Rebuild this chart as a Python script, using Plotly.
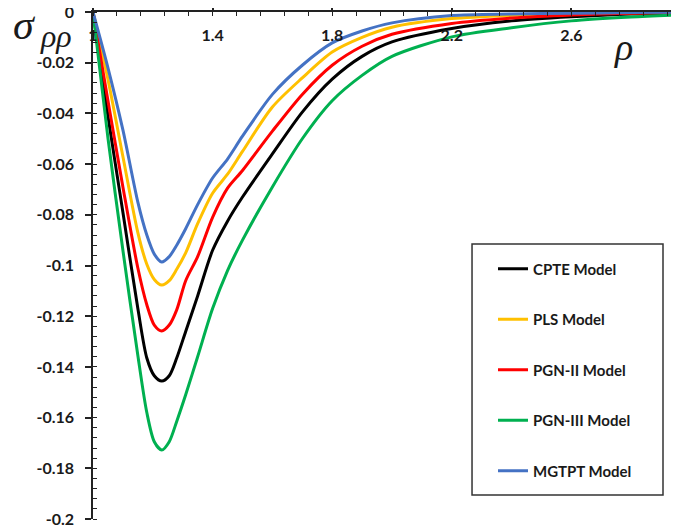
import plotly.graph_objects as go

rho = [1.0, 1.05, 1.1, 1.15, 1.18, 1.205, 1.23, 1.255, 1.28, 1.31, 1.35, 1.4, 1.45, 1.5, 1.6, 1.7, 1.8, 1.9, 2.0, 2.2, 2.4, 2.6, 2.8, 2.96]

cpte = [0.0, -0.041, -0.079, -0.117, -0.1365, -0.1435, -0.1456, -0.1435, -0.1365, -0.126, -0.112, -0.094, -0.0825, -0.073, -0.056, -0.0395, -0.0265, -0.0175, -0.0118, -0.0065, -0.0035, -0.0019, -0.0008, -0.0004]
pls = [0.0, -0.0266, -0.057, -0.087, -0.0995, -0.1055, -0.1077, -0.106, -0.1015, -0.095, -0.0835, -0.0715, -0.064, -0.055, -0.0375, -0.026, -0.0158, -0.010, -0.006, -0.0026, -0.0013, -0.0007, -0.0003, -0.0002]
pgn2 = [0.0, -0.035, -0.069, -0.101, -0.1155, -0.1235, -0.1258, -0.1235, -0.1175, -0.106, -0.0965, -0.081, -0.0695, -0.0625, -0.047, -0.0325, -0.021, -0.0135, -0.0088, -0.0045, -0.0024, -0.0012, -0.0005, -0.0003]
pgn3 = [0.0, -0.0497, -0.094, -0.1355, -0.158, -0.1695, -0.1728, -0.1695, -0.1615, -0.151, -0.136, -0.117, -0.102, -0.090, -0.069, -0.050, -0.035, -0.025, -0.0175, -0.0098, -0.0062, -0.0035, -0.0020, -0.0012]
mgtpt = [0.0, -0.022, -0.0465, -0.075, -0.088, -0.0955, -0.0986, -0.0965, -0.092, -0.0855, -0.076, -0.0655, -0.058, -0.049, -0.0325, -0.021, -0.0122, -0.0075, -0.0043, -0.0014, -0.0008, -0.0005, -0.0002, -0.0001]

series_names = ["CPTE Model", "PLS Model", "PGN-II Model", "PGN-III Model", "MGTPT Model"]
series_values = [cpte, pls, pgn2, pgn3, mgtpt]
series_colors = ["#000000", "#FFC000", "#FF0000", "#00B050", "#4472C4"]

y_tickvals = [0, -0.02, -0.04, -0.06, -0.08, -0.1, -0.12, -0.14, -0.16, -0.18, -0.2]
y_ticktext = ["0", "-0.02", "-0.04", "-0.06", "-0.08", "-0.1", "-0.12", "-0.14", "-0.16", "-0.18", "-0.2"]

fig = go.Figure()
for i, (name, vals, col) in enumerate(zip(series_names, series_values, series_colors)):
    fig.add_trace(go.Scatter(
        x=rho, y=vals, mode="lines", name=name,
        line=dict(color=col, width=3, shape="spline", smoothing=0.8),
        legendgroup="g%d" % i,
    ))
# invisible carrier trace for the label axis
fig.add_trace(go.Scatter(x=[1], y=[None], xaxis="x2", yaxis="y", mode="lines",
                         showlegend=False, hoverinfo="skip"))

tick_font = dict(family="Lato", size=16, color="#1a1a1a", weight="bold")

fig.update_layout(
    width=671, height=520,
    margin=dict(l=85, r=0, t=4, b=9),
    paper_bgcolor="white", plot_bgcolor="white",
    showlegend=True,
    legend=dict(
        x=0.6826, y=0.5256, xanchor="left", yanchor="top",
        bgcolor="rgba(0,0,0,0)", borderwidth=0,
        font=dict(family="Lato", size=15, color="#1a1a1a", weight="bold"),
        tracegroupgap=28, traceorder="grouped",
    ),
    xaxis=dict(
        range=[1, 2.96], side="top", showline=True, linecolor="#222", linewidth=1.5,
        showgrid=False, zeroline=False, automargin=False,
        tick0=1, dtick=0.4, ticks="outside", ticklen=5, tickwidth=1.5, tickcolor="#222",
        minor=dict(dtick=0.08, tick0=1, ticks="inside", ticklen=4, tickwidth=1.2, tickcolor="#222", showgrid=False),
        showticklabels=False,
    ),
    xaxis2=dict(
        range=[1, 2.96], overlaying="x", anchor="free", position=0.937, side="top",
        showline=False, showgrid=False, zeroline=False, automargin=False,
        tick0=1, dtick=0.4, ticks="", tickfont=tick_font, ticklabeloverflow="allow",
    ),
    yaxis=dict(
        range=[-0.2, 0], showline=True, linecolor="#222", linewidth=1.5,
        showgrid=False, zeroline=False, automargin=False,
        tickvals=y_tickvals, ticktext=y_ticktext,
        ticks="outside", ticklen=6, tickwidth=1.5, tickcolor="#222",
        minor=dict(dtick=0.004, tick0=0, ticks="inside", ticklen=4, tickwidth=1.2, tickcolor="#222", showgrid=False),
        ticklabelstandoff=8, ticklabeloverflow="allow",
        tickfont=tick_font,
    ),
    shapes=[dict(type="rect", xref="paper", yref="paper",
                 x0=0.6468, x1=0.9727, y0=0.0473, y1=0.5424,
                 line=dict(color="#333", width=1.5), fillcolor="rgba(0,0,0,0)", layer="below")],
    annotations=[
        dict(text="<i>σ</i>", xref="paper", yref="paper",
             x=-0.1177, y=0.975, xanchor="center", yanchor="middle", showarrow=False,
             font=dict(family="Liberation Serif", size=42, color="#1a1a1a")),
        dict(text="<i>ρρ</i>", xref="paper", yref="paper",
             x=-0.0631, y=0.952, xanchor="center", yanchor="middle", showarrow=False,
             font=dict(family="Liberation Serif", size=32, color="#1a1a1a")),
        dict(text="<i>ρ</i>", xref="paper", yref="paper",
             x=0.906, y=0.93, xanchor="center", yanchor="middle", showarrow=False,
             font=dict(family="Liberation Serif", size=38, color="#1a1a1a")),
    ],
)

fig.write_html("out.html")
